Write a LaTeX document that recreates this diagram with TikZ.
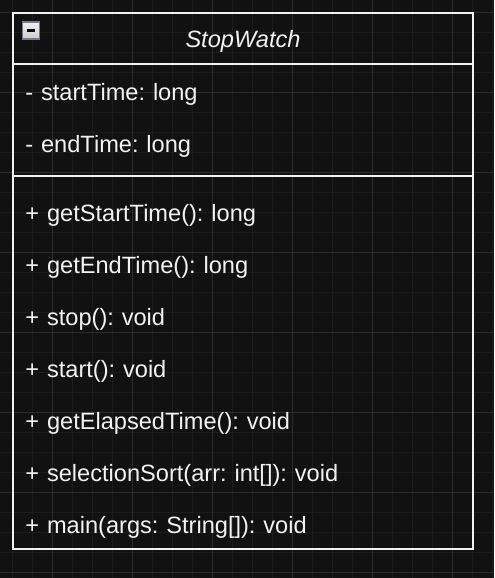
\documentclass[tikz,border=0pt]{standalone}
\usepackage{fontspec}
\setmainfont{Liberation Sans}
\frenchspacing
\definecolor{canvas}{HTML}{111111}
\definecolor{gridminor}{HTML}{1C1C1C}
\definecolor{gridmajor}{HTML}{2C2C2C}
\definecolor{ink}{HTML}{F2F2F2}
\definecolor{iconedge}{HTML}{737B8A}
\tikzset{
	member/.style={text=ink, font=\fontsize{11.8pt}{14pt}\selectfont\frenchspacing, inner sep=0pt,
		text width=220pt, align=left, text height=9pt, text depth=2.5pt},
	rule/.style={draw=ink, line width=1pt},
}
\begin{document}
\begin{tikzpicture}[x=0.5pt, y=-0.5pt, node distance=26pt]
	\fill[canvas] (0,0) rectangle (494,578);
	\useasboundingbox (0,0) rectangle (494,578);
	% background grid
	\foreach \x in {12,32,...,492} \draw[gridminor, line width=0.5pt] (\x,0) -- (\x,578);
	\foreach \y in {12,32,...,572} \draw[gridminor, line width=0.5pt] (0,\y) -- (494,\y);
	\foreach \x in {52,132,...,452} \draw[gridmajor, line width=0.5pt] (\x,0) -- (\x,578);
	\foreach \y in {12,92,...,572} \draw[gridmajor, line width=0.5pt] (0,\y) -- (494,\y);
	% class box
	\node[rule, minimum width=230pt, minimum height=268pt, inner sep=0pt] (watch) at (243,281) {};
	\coordinate (head) at (243,64);
	\coordinate (split) at (243,176);
	\draw[rule] (watch.west |- head) -- (watch.east |- head);
	\draw[rule] (watch.west |- split) -- (watch.east |- split);
	\node[draw=iconedge, line width=0.75pt, top color=black!6, bottom color=black!20,
		minimum size=8.5pt, inner sep=0pt] (toggle) at (31,30.5) {};
	\draw[black, line width=1.1pt] ([xshift=-2.1pt]toggle.center) -- ([xshift=2.1pt]toggle.center);
	\node[text=ink, font=\fontsize{11.8pt}{14pt}\selectfont\itshape, inner sep=0pt, anchor=base] (title) at (243,47) {StopWatch};
	% attributes
	\node[member, anchor=base west] (starttime) at (25,100) {- startTime: long};
	\node[member] (endtime) [below of=starttime] {- endTime: long};
	% methods
	\node[member, anchor=base west] (getstart) at (25,221) {+ getStartTime(): long};
	\node[member] (getend) [below of=getstart] {+ getEndTime(): long};
	\node[member] (stop) [below of=getend] {+ stop(): void};
	\node[member] (start) [below of=stop] {+ start(): void};
	\node[member] (elapsed) [below of=start] {+ getElapsedTime(): void};
	\node[member] (sort) [below of=elapsed] {+ selectionSort(arr: int[]): void};
	\node[member] (main) [below of=sort] {+ main(args: String[]): void};
\end{tikzpicture}
\end{document}
